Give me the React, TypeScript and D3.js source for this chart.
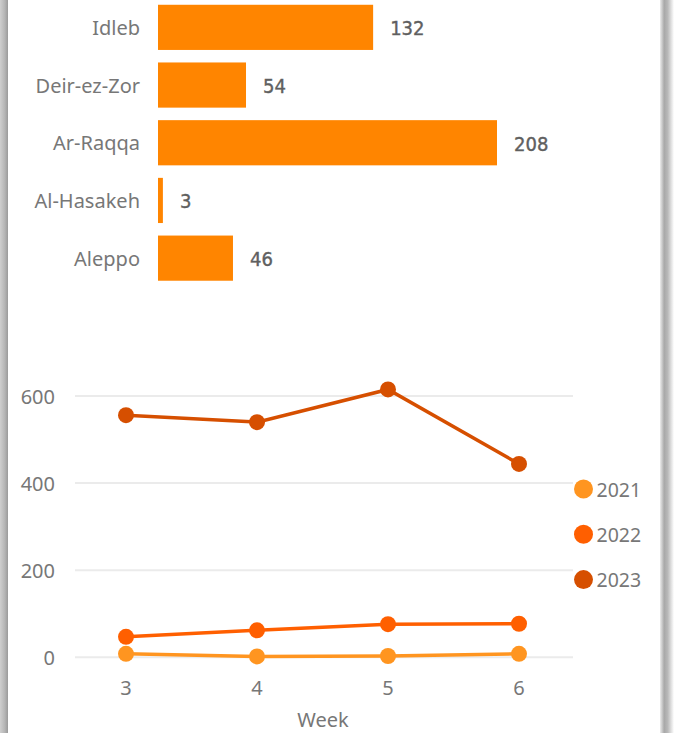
import React from "react";
import * as d3 from "d3";

const regions = ["Idleb", "Deir-ez-Zor", "Ar-Raqqa", "Al-Hasakeh", "Aleppo"];
const regionValues = [132, 54, 208, 3, 46];

const weeks = [3, 4, 5, 6];
const seriesNames = ["2021", "2022", "2023"];
const values2021 = [8, 2, 3, 8];
const values2022 = [47, 62, 76, 77];
const values2023 = [556, 540, 615, 444];
const yTicks = [0, 200, 400, 600];

const W = 683;
const H = 733;
const barColor = "#FF8500";
const seriesColors = ["#FF9520", "#FF5F00", "#D64F00"];
const textColor = "#777777";
const labelFont = "'Noto Sans', 'Open Sans', sans-serif";
const dataFont = "'DejaVu Sans Condensed', 'Liberation Sans Narrow', sans-serif";

export default function App() {
  const yBand = d3
    .scaleBand<string>()
    .domain(regions)
    .range([-1, 286.5])
    .paddingInner(0.217)
    .paddingOuter(0.1);
  const xBar = d3.scaleLinear().domain([0, 208]).range([158, 497]);

  const xLine = d3.scaleLinear().domain([3, 6]).range([126, 519]);
  const yLine = d3.scaleLinear().domain([0, 600]).range([657.3, 396]);
  const allSeries = [values2021, values2022, values2023];
  const line = d3
    .line<number>()
    .x((_, i) => xLine(weeks[i]))
    .y((v) => yLine(v));

  return (
    <svg
      width={W}
      height={H}
      style={{ position: "absolute", left: 0, top: 0, background: "#fff" }}
    >
      <defs>
        <linearGradient id="shL" x1="0" x2="1" y1="0" y2="0">
          <stop offset="0" stopColor="#cfcfcf" />
          <stop offset="0.6" stopColor="#b5b5b5" />
          <stop offset="1" stopColor="#9a9a9a" />
        </linearGradient>
        <linearGradient id="shR" x1="0" x2="1" y1="0" y2="0">
          <stop offset="0" stopColor="#ececec" />
          <stop offset="0.3" stopColor="#a8a8a8" />
          <stop offset="0.55" stopColor="#b9b9b9" />
          <stop offset="1" stopColor="#ffffff" />
        </linearGradient>
      </defs>
      <rect x={0} y={0} width={W} height={H} fill="#fff" />
      <rect x={0} y={0} width={8} height={H} fill="url(#shL)" />
      <rect x={660} y={0} width={14} height={H} fill="url(#shR)" />

      {regions.map((r, i) => {
        const y = yBand(r)!;
        const bw = yBand.bandwidth();
        return (
          <g key={r}>
            <text
              x={140}
              y={y + bw / 2}
              textAnchor="end"
              dominantBaseline="central"
              fontFamily={labelFont}
              fontSize={20}
              fill={textColor}
            >
              {r}
            </text>
            <rect x={xBar(0)} y={y} width={xBar(regionValues[i]) - xBar(0)} height={bw} fill={barColor} />
            <text
              x={xBar(regionValues[i]) + 17}
              y={y + bw / 2 + 1}
              dominantBaseline="central"
              fontFamily={dataFont}
              fontWeight={400}
              fontSize={20}
              fill="#5f5f5f"
              stroke="#5f5f5f"
              strokeWidth={0.4}
            >
              {regionValues[i]}
            </text>
          </g>
        );
      })}

      {yTicks.map((t) => (
        <g key={t}>
          <line x1={75} x2={573} y1={yLine(t)} y2={yLine(t)} stroke="#ebebeb" strokeWidth={2} />
          <text
            x={55}
            y={yLine(t)}
            textAnchor="end"
            dominantBaseline="central"
            fontFamily={labelFont}
            fontSize={20}
            fill={textColor}
          >
            {t}
          </text>
        </g>
      ))}
      {weeks.map((w) => (
        <text
          key={w}
          x={xLine(w)}
          y={687}
          textAnchor="middle"
          dominantBaseline="central"
          fontFamily={labelFont}
          fontSize={20}
          fill={textColor}
        >
          {w}
        </text>
      ))}
      <text
        x={323}
        y={719}
        textAnchor="middle"
        dominantBaseline="central"
        fontFamily={labelFont}
        fontSize={20}
        fill={textColor}
      >
        Week
      </text>

      {allSeries.map((vals, si) => (
        <g key={si}>
          <path d={line(vals) || ""} fill="none" stroke={seriesColors[si]} strokeWidth={3.5} />
          {vals.map((v, i) => (
            <circle key={i} cx={xLine(weeks[i])} cy={yLine(v)} r={8} fill={seriesColors[si]} />
          ))}
        </g>
      ))}

      {seriesNames.map((n, i) => (
        <g key={n} transform={`translate(583.5, ${489 + i * 45.3})`}>
          <circle r={9.5} fill={seriesColors[i]} />
          <text
            x={13}
            y={0}
            dominantBaseline="central"
            fontFamily={labelFont}
            fontSize={19.5}
            fill={textColor}
          >
            {n}
          </text>
        </g>
      ))}
    </svg>
  );
}
